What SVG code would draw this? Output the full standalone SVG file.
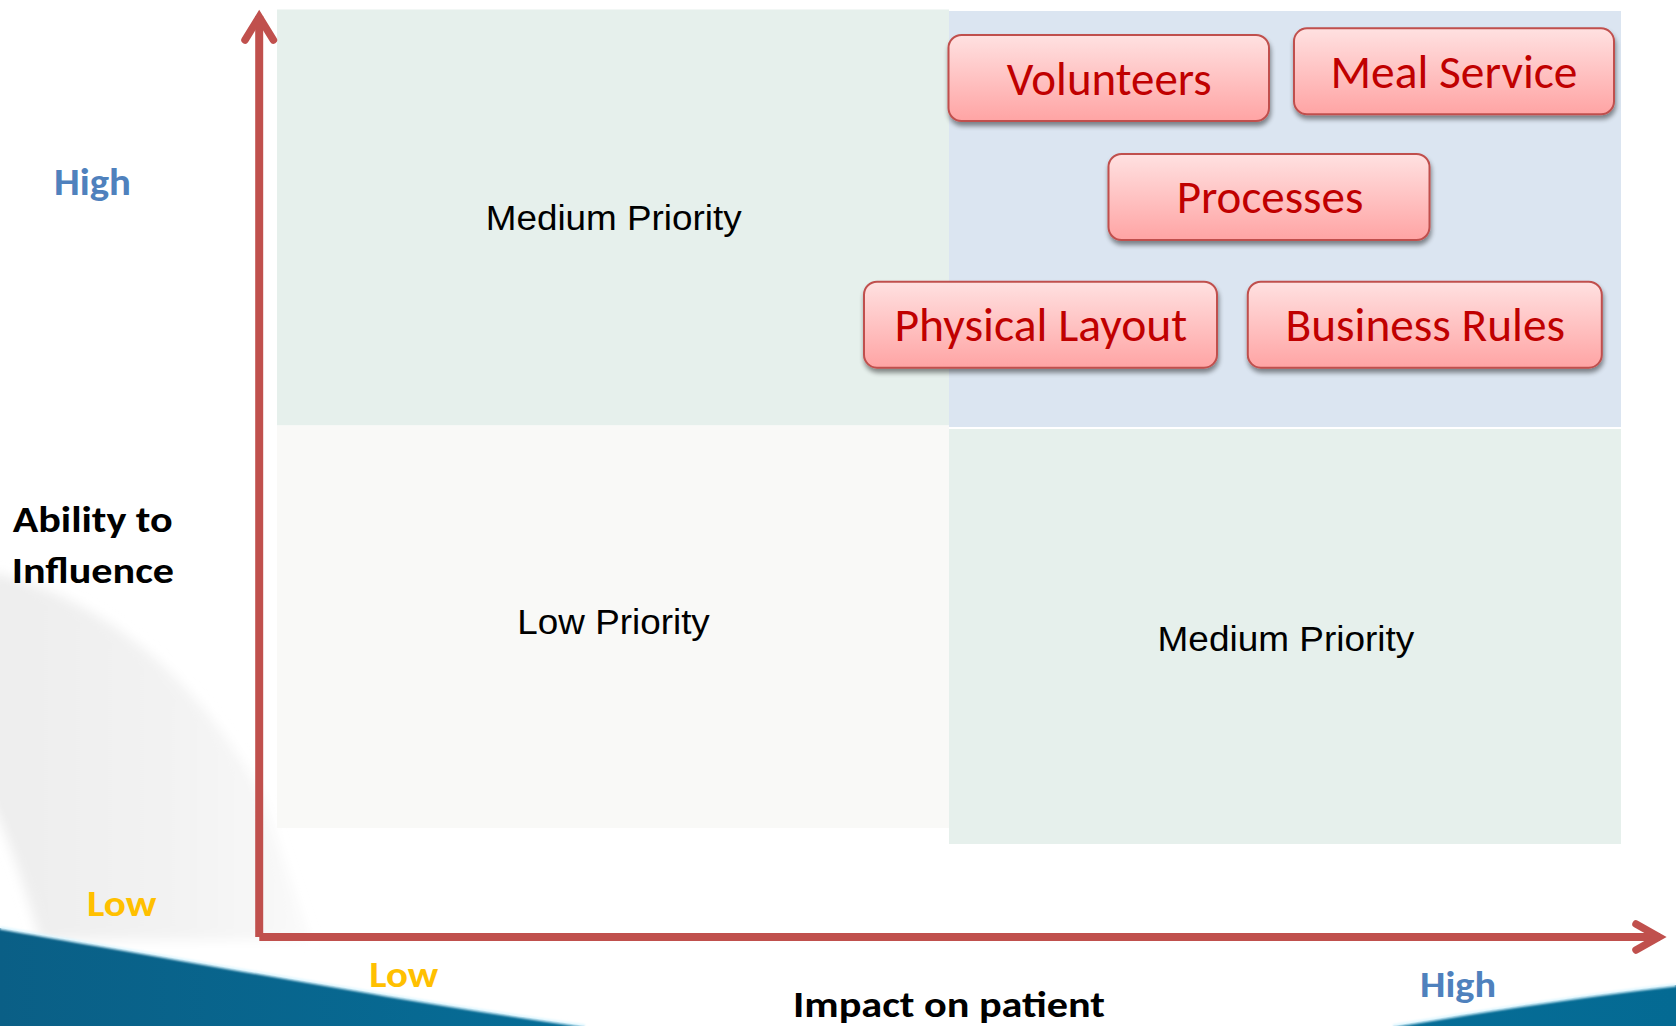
<svg xmlns="http://www.w3.org/2000/svg" width="1676" height="1026" viewBox="0 0 1676 1026">
  <style>
    .axis { fill: none; stroke: #C0504D; stroke-width: 8; }
    .head { fill: none; stroke: #C0504D; stroke-width: 7.5; stroke-linecap: round; stroke-linejoin: miter; stroke-miterlimit: 10; }
    .quad { font-family: "Liberation Sans", Arial, sans-serif; font-size: 35px; fill: #000000; }
    .axlbl { font-family: Calibri, Carlito, Lato, "Open Sans", sans-serif; font-weight: bold; }
    .hi { fill: #4F81BD; }
    .lo { fill: #FFC000; }
    .ttl { fill: #000000; }
    .box { fill: url(#boxFill); stroke: #C0504D; stroke-width: 2; filter: url(#boxShadow); }
    .boxtxt { font-family: Calibri, Carlito, Lato, "Open Sans", sans-serif; font-size: 47px; fill: #C00000; }
  </style>
  <defs>
    <linearGradient id="boxFill" x1="0" y1="0" x2="0" y2="1">
      <stop offset="0" stop-color="#FFE1E1"/>
      <stop offset="1" stop-color="#FFA4A4"/>
    </linearGradient>
    <linearGradient id="swoosh" x1="0" y1="0" x2="1" y2="0">
      <stop offset="0" stop-color="#EDEDED"/>
      <stop offset="0.7" stop-color="#F4F4F4"/>
      <stop offset="1" stop-color="#FAFAFA"/>
    </linearGradient>
    <linearGradient id="waveL" x1="0" y1="0" x2="1" y2="0">
      <stop offset="0" stop-color="#0A5F86"/>
      <stop offset="1" stop-color="#066D97"/>
    </linearGradient>
    <linearGradient id="waveR" x1="0" y1="0" x2="1" y2="0">
      <stop offset="0" stop-color="#066D97"/>
      <stop offset="1" stop-color="#046A93"/>
    </linearGradient>
    <filter id="soft" x="-20%" y="-20%" width="140%" height="140%">
      <feGaussianBlur stdDeviation="6"/>
    </filter>
    <filter id="edgeGlow" x="-5%" y="-50%" width="110%" height="200%">
      <feGaussianBlur stdDeviation="1.2"/>
    </filter>
    <filter id="boxShadow" x="-10%" y="-20%" width="120%" height="150%">
      <feGaussianBlur in="SourceAlpha" stdDeviation="2.5"/>
      <feOffset dx="1" dy="4" result="blur"/>
      <feComponentTransfer in="blur" result="shade">
        <feFuncA type="linear" slope="0.45"/>
      </feComponentTransfer>
      <feMerge>
        <feMergeNode in="shade"/>
        <feMergeNode in="SourceGraphic"/>
      </feMerge>
    </filter>
  </defs>

  <!-- slide background -->
  <g id="background">
    <rect x="0" y="0" width="1676" height="1026" fill="#FFFFFF"/>
    <path d="M-10,572 C90,594 190,664 262,796 L310,940 L40,940 C24,886 10,840 -10,800 Z" fill="url(#swoosh)" filter="url(#soft)"/>
    <path d="M0,928 C200,962 400,1000 585,1026 L0,1026 Z" fill="url(#waveL)"/>
    <path d="M0,928 C200,962 400,1000 585,1026" fill="none" stroke="#DDF6FF" stroke-width="3" filter="url(#edgeGlow)"/>
    <path d="M1393,1026 C1460,1015 1560,998 1676,985 L1676,1026 Z" fill="url(#waveR)"/>
    <path d="M1393,1026 C1460,1015 1560,998 1676,985" fill="none" stroke="#DDF6FF" stroke-width="3" filter="url(#edgeGlow)"/>
  </g>

  <!-- priority quadrants -->
  <g id="quadrants">
    <rect x="277" y="9.5" width="672" height="416" fill="#E6F0EC"/>
    <rect x="949" y="11" width="672" height="416" fill="#DBE5F1"/>
    <rect x="277" y="425.5" width="672" height="402.5" fill="#F9F9F7"/>
    <rect x="949" y="429" width="672" height="415" fill="#E6F0EC"/>
    <text class="quad" x="485.7" y="230" textLength="256" lengthAdjust="spacingAndGlyphs">Medium Priority</text>
    <text class="quad" x="517.3" y="634" textLength="192.5" lengthAdjust="spacingAndGlyphs">Low Priority</text>
    <text class="quad" x="1157.6" y="651" textLength="256.6" lengthAdjust="spacingAndGlyphs">Medium Priority</text>
  </g>

  <!-- axes -->
  <g id="connectors">
    <line class="axis" x1="259.2" y1="16" x2="259.2" y2="937"/>
    <polyline class="head" points="245,40 259.2,17 273.4,40"/>
    <line class="axis" x1="259.3" y1="937" x2="1660" y2="937"/>
    <polyline class="head" points="1636,924 1659,937 1636,950"/>
  </g>

  <!-- axis labels -->
  <g id="axis-labels">
    <text class="axlbl hi" x="54" y="195" font-size="38" textLength="77" lengthAdjust="spacingAndGlyphs">High</text>
    <text class="axlbl ttl" x="12.7" y="531.7" font-size="36" textLength="160" lengthAdjust="spacingAndGlyphs">Ability to</text>
    <text class="axlbl ttl" x="11.7" y="583.3" font-size="36" textLength="162.3" lengthAdjust="spacingAndGlyphs">Influence</text>
    <text class="axlbl lo" x="87" y="916" font-size="37" textLength="69.5" lengthAdjust="spacingAndGlyphs">Low</text>
    <text class="axlbl lo" x="369.3" y="986.7" font-size="37" textLength="69" lengthAdjust="spacingAndGlyphs">Low</text>
    <text class="axlbl ttl" x="793" y="1017.3" font-size="36" textLength="312" lengthAdjust="spacingAndGlyphs">Impact on patient</text>
    <text class="axlbl hi" x="1420" y="997.3" font-size="37" textLength="76" lengthAdjust="spacingAndGlyphs">High</text>
  </g>

  <!-- factor boxes -->
  <g id="node-volunteers">
    <rect class="box" x="948.5" y="35" width="320.5" height="86" rx="13"/>
    <text class="boxtxt" x="1006.7" y="94.5" textLength="205" lengthAdjust="spacingAndGlyphs">Volunteers</text>
  </g>
  <g id="node-meal-service">
    <rect class="box" x="1294" y="28.3" width="320" height="86" rx="13"/>
    <text class="boxtxt" x="1330.5" y="88" textLength="247" lengthAdjust="spacingAndGlyphs">Meal Service</text>
  </g>
  <g id="node-processes">
    <rect class="box" x="1108.5" y="154" width="321" height="86" rx="13"/>
    <text class="boxtxt" x="1176.7" y="213" textLength="186.6" lengthAdjust="spacingAndGlyphs">Processes</text>
  </g>
  <g id="node-physical-layout">
    <rect class="box" x="864" y="281.7" width="353" height="86" rx="13"/>
    <text class="boxtxt" x="894.5" y="341" textLength="292.8" lengthAdjust="spacingAndGlyphs">Physical Layout</text>
  </g>
  <g id="node-business-rules">
    <rect class="box" x="1247.8" y="281.7" width="354" height="86" rx="13"/>
    <text class="boxtxt" x="1285.5" y="341" textLength="279.5" lengthAdjust="spacingAndGlyphs">Business Rules</text>
  </g>
</svg>
